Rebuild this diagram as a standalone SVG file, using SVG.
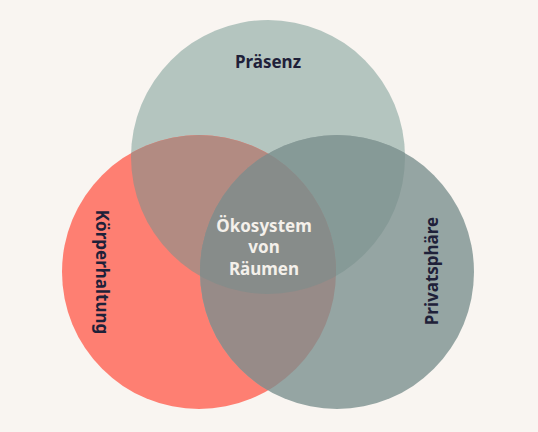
<svg xmlns="http://www.w3.org/2000/svg" width="538" height="432" viewBox="0 0 538 432">
<style>
.lbl{font-family:"Noto Sans","Liberation Sans",sans-serif;font-weight:bold;font-size:17px;fill:#1f2139;text-anchor:middle}
.ctr{font-family:"Noto Sans","Liberation Sans",sans-serif;font-weight:bold;font-size:17px;fill:#f4f0ea;text-anchor:middle}
</style>
<defs>
<circle id="cT" cx="268" cy="157" r="137"/>
<circle id="cL" cx="199" cy="272" r="137"/>
<circle id="cR" cx="337" cy="272" r="137"/>
<clipPath id="clipT"><use href="#cT"/></clipPath>
<clipPath id="clipL"><use href="#cL"/></clipPath>
<clipPath id="clipR"><use href="#cR"/></clipPath>
</defs>
<rect width="538" height="432" fill="#f9f5f1"/>
<g id="top"><use href="#cT" fill="#b4c5bf"/></g>
<g id="left"><use href="#cL" fill="#fe7f72"/></g>
<g id="right"><use href="#cR" fill="#95a5a3"/></g>
<g id="overlaps">
<g clip-path="url(#clipT)"><use href="#cL" fill="#b28b82"/><use href="#cR" fill="#869a97"/></g>
<g clip-path="url(#clipL)"><use href="#cR" fill="#978b88"/></g>
<g clip-path="url(#clipT)"><g clip-path="url(#clipL)"><use href="#cR" fill="#878c8a"/></g></g>
</g>
<g id="labels">
<text class="lbl" x="268" y="68">Präsenz</text>
<text class="lbl" transform="translate(96 272) rotate(90)">Körperhaltung</text>
<text class="lbl" transform="translate(438 271) rotate(-90)">Privatsphäre</text>
<text class="ctr" x="264" y="232">Ökosystem</text>
<text class="ctr" x="264" y="253">von</text>
<text class="ctr" x="264" y="275">Räumen</text>
</g>
</svg>
